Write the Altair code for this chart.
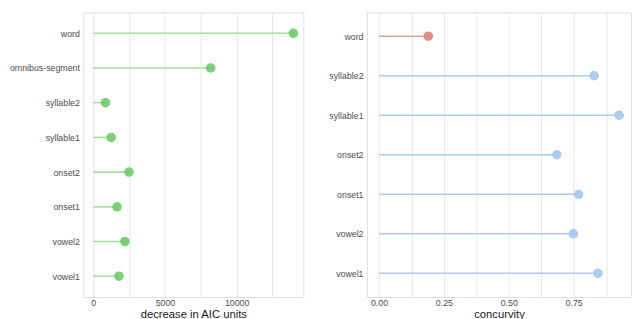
import altair as alt
import pandas as pd

# Left panel: decrease in AIC units
aic_labels = ["word", "omnibus-segment", "syllable2", "syllable1",
              "onset2", "onset1", "vowel2", "vowel1"]
aic_values = [13960, 8190, 850, 1245, 2490, 1660, 2205, 1790]

# Right panel: concurvity
conc_labels = ["word", "syllable2", "syllable1", "onset2",
               "onset1", "vowel2", "vowel1"]
conc_values = [0.19, 0.829, 0.925, 0.685, 0.769, 0.749, 0.843]

aic_ticks = [0, 2500, 5000, 7500, 10000, 12500]
conc_ticks = [0, 0.125, 0.25, 0.375, 0.5, 0.625, 0.75, 0.875]

df1 = pd.DataFrame({"label": aic_labels, "value": aic_values})
df2 = pd.DataFrame({"label": conc_labels, "value": conc_values})

FONT = "Liberation Sans"
TXT = "#4D4D4D"

def yaxis():
    return alt.Axis(title=None, domain=False, ticks=False, grid=False,
                    labelFont=FONT, labelFontSize=9, labelColor=TXT,
                    labelPadding=4)

def xaxis(ticks, expr):
    return alt.Axis(values=ticks, domain=False, ticks=False,
                    gridColor="#E6E6E6", gridWidth=1, labelExpr=expr,
                    labelFont=FONT, labelFontSize=9, labelColor=TXT,
                    labelPadding=2, titleFont=FONT, titleFontSize=11.5,
                    titleFontWeight="normal", titleColor="#1A1A1A",
                    titlePadding=1)

# ---- left
y1 = alt.Y("label:N", sort=aic_labels, axis=yaxis(),
           scale=alt.Scale(type="point", padding=0.6))
x1 = alt.X("value:Q", title="decrease in AIC units",
           scale=alt.Scale(domain=[-698, 14658], nice=False, zero=False),
           axis=xaxis(aic_ticks,
                      "datum.value % 5000 == 0 ? format(datum.value, 'd') : ''"))
base1 = alt.Chart(df1)
seg1 = base1.mark_rule(color="#A6DFA0", strokeWidth=1.6).encode(
    x=x1, x2=alt.datum(0), y=y1)
pt1 = base1.mark_circle(size=95, color="#62C962", opacity=0.85).encode(
    x=x1, y=y1)
left = alt.layer(seg1, pt1).properties(width=225, height=291)

# ---- right
y2 = alt.Y("label:N", sort=conc_labels, axis=yaxis(),
           scale=alt.Scale(type="point", padding=0.6))
x2 = alt.X("value:Q", title="concurvity",
           scale=alt.Scale(domain=[-0.0467, 0.971], nice=False, zero=False),
           axis=xaxis(conc_ticks,
                      "abs(datum.value * 4 - round(datum.value * 4)) < 0.001 ? format(datum.value, '.2f') : ''"))
colr_line = alt.condition(alt.datum.label == "word", alt.value("#E8A597"), alt.value("#A9CCEE"))
colr_pt = alt.condition(alt.datum.label == "word", alt.value("#E0877A"), alt.value("#A6C8EF"))
base2 = alt.Chart(df2)
seg2 = base2.mark_rule(strokeWidth=1.6).encode(
    x=x2, x2=alt.datum(0), y=y2, color=colr_line)
pt2 = base2.mark_circle(size=95, opacity=0.95).encode(
    x=x2, y=y2, color=colr_pt)
right = alt.layer(seg2, pt2).properties(width=270, height=291)

chart = alt.hconcat(left, right, spacing=24).configure_view(
    stroke="#BDBDBD", strokeWidth=1
).configure(padding=0, background="white")

chart.save("out.html", embed_options={"renderer": "svg", "actions": False})
